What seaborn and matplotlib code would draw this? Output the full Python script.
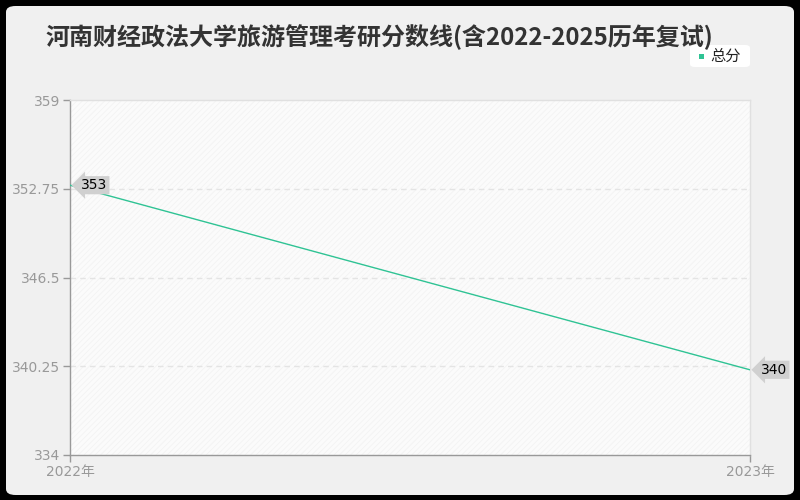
import matplotlib
matplotlib.use("Agg")
import matplotlib.pyplot as plt
import seaborn as sns
import pandas as pd
from matplotlib.patches import FancyBboxPatch, Rectangle

years = ["2022年", "2023年"]
scores = [353, 340]
series_name = "总分"
yticks = [334, 340.25, 346.5, 352.75, 359]
ytick_labels = ["334", "340.25", "346.5", "352.75", "359"]
title = "河南财经政法大学旅游管理考研分数线(含2022-2025历年复试)"

sns.set_theme(style="white")
plt.rcParams['font.family'] = ['Noto Sans CJK SC', 'DejaVu Sans']
plt.rcParams['hatch.linewidth'] = 0.6

df = pd.DataFrame({"year": [0, 1], "score": scores, "series": series_name})

fig = plt.figure(figsize=(8, 5), dpi=100)
fig.patch.set_facecolor("black")
panel = FancyBboxPatch((6 / 800, 5 / 500), 788 / 800, 489 / 500,
                       boxstyle="round,pad=0,rounding_size=0.012",
                       transform=fig.transFigure, facecolor="#f0f0f0",
                       edgecolor="none", zorder=-10)
fig.patches.append(panel)

ax = fig.add_axes([70 / 800, 45 / 500, 680 / 800, 355 / 500])
ax.set_zorder(1)
ax.set_facecolor("#fbfbfb")
ax.add_patch(Rectangle((0, 0), 1, 1, transform=ax.transAxes, facecolor="none",
                       edgecolor="#f3f3f3", hatch="//////", linewidth=0, zorder=0))

color = "#2fc394"
sns.lineplot(data=df, x="year", y="score", ax=ax, color=color, linewidth=1,
             legend=False, zorder=3)

ax.set_xlim(0, 1)
ax.set_ylim(334, 359)
ax.set_yticks(yticks)
ax.set_yticklabels(ytick_labels)
ax.set_xticks([0, 1])
ax.set_xticklabels(years)
ax.set_xlabel("")
ax.set_ylabel("")
ax.tick_params(axis="both", colors="#999999", labelsize=10, length=5, width=1,
               direction="out", bottom=True, left=True, pad=2)
for lab in ax.get_yticklabels() + ax.get_xticklabels():
    lab.set_color("#999999")
    lab.set_family(['DejaVu Sans', 'Noto Sans CJK SC'])

for y in yticks[1:-1]:
    ax.axhline(y, color="#e4e4e4", linestyle=(0, (4, 3)), linewidth=1, zorder=1)

for s in ["top", "right"]:
    ax.spines[s].set_color("#e0e0e0")
    ax.spines[s].set_linewidth(1)
for s in ["left", "bottom"]:
    ax.spines[s].set_color("#999999")
    ax.spines[s].set_linewidth(1)

for xi, v in zip(df["year"], df["score"]):
    ax.annotate(str(v), xy=(xi, v), xytext=(8, 0), textcoords="offset points",
                ha="left", va="center", fontsize=10, color="black",
                family=['DejaVu Sans'], zorder=5,
                annotation_clip=False,
                bbox=dict(boxstyle="larrow,pad=0.15", facecolor="#d0d0d0",
                          edgecolor="none"))

fig.text(45 / 800, 1 - 37 / 500, title, fontsize=17.3, color="#333333",
         ha="left", va="center", fontweight="bold")

leg = FancyBboxPatch((690 / 800, 1 - 67 / 500), 60 / 800, 22 / 500,
                     boxstyle="round,pad=0,rounding_size=0.006",
                     transform=fig.transFigure, facecolor="white",
                     edgecolor="none", zorder=1)
fig.patches.append(leg)
fig.patches.append(Rectangle((699 / 800, 1 - 59 / 500), 5 / 800, 5 / 500,
                             transform=fig.transFigure, facecolor=color,
                             edgecolor="none", zorder=2))
fig.text(710 / 800, 1 - 56 / 500, series_name, fontsize=11, color="#222222",
         ha="left", va="center")

fig.savefig("out.png", dpi=100, facecolor=fig.get_facecolor())
